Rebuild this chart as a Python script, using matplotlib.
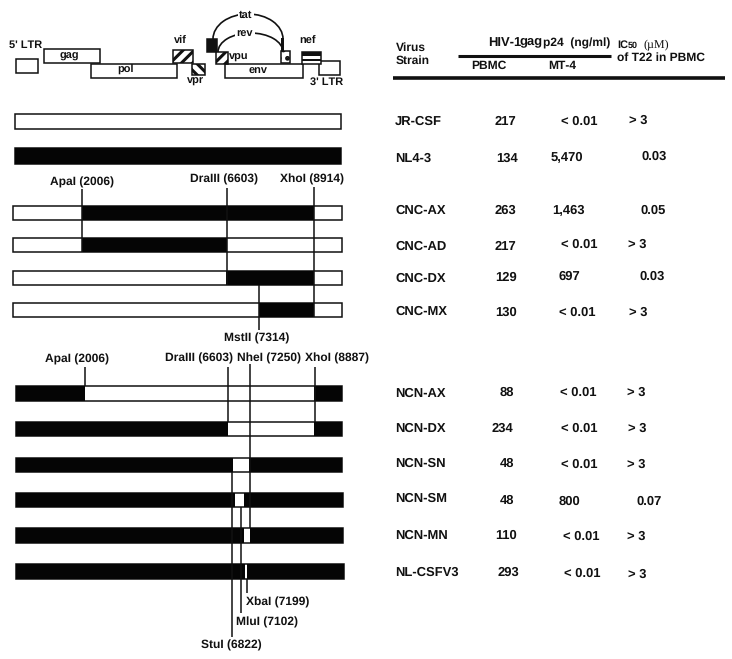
import matplotlib
matplotlib.use("Agg")
import matplotlib.pyplot as plt
from matplotlib.patches import Rectangle, Arc

plt.rcParams['font.family'] = ['Liberation Sans', 'DejaVu Sans']
plt.rcParams['hatch.linewidth'] = 2.2
plt.rcParams['text.hinting'] = 'none'
plt.rcParams['text.hinting_factor'] = 1

# ---- table data
strains = ["JR-CSF", "NL4-3", "CNC-AX", "CNC-AD", "CNC-DX", "CNC-MX",
           "NCN-AX", "NCN-DX", "NCN-SN", "NCN-SM", "NCN-MN", "NL-CSFV3"]
pbmc = ["217", "134", "263", "217", "129", "130", "88", "234", "48", "48", "110", "293"]
mt4 = ["< 0.01", "5,470", "1,463", "< 0.01", "697", "< 0.01",
       "< 0.01", "< 0.01", "< 0.01", "800", "< 0.01", "< 0.01"]
ic50 = ["> 3", "0.03", "0.05", "> 3", "0.03", "> 3", "> 3", "> 3", "> 3", "0.07", "> 3", "> 3"]
strain_y = [122, 158, 211, 247, 279, 312, 394, 429, 464, 499, 536, 573]
pbmc_y = [122, 159, 211, 247, 278, 313, 393, 429, 464, 501, 536, 573]
mt4_y = [122, 158, 211, 245, 277, 313, 393, 429, 465, 502, 537, 574]
ic50_y = [121, 157, 211, 245, 277, 313, 393, 429, 465, 502, 537, 574]
pbmc_x = [495, 496, 495, 495, 495, 495, 500, 492, 500, 500, 495, 498]
mt4_x = [561, 551, 552, 561, 559, 559, 560, 561, 561, 559, 563, 564]
ic50_x = [629, 641, 640, 628, 639, 629, 627, 628, 627, 636, 627, 628]

# ---- construct tracks: (top, bottom, left, right, black segments)
track_top = [114, 148, 206, 238, 271, 303, 386, 422, 458, 493, 528, 564]
track_bot = [129, 164, 220, 252, 285, 317, 401, 436, 472, 507, 543, 579]
track_left = [15, 15, 13, 13, 13, 13, 16, 16, 16, 16, 16, 16]
track_right = [341, 341, 342, 342, 342, 342, 342, 342, 342, 343, 343, 344]
track_black = [[], [(15, 341)], [(82, 314)], [(82, 227)], [(226, 314)], [(259, 314)],
               [(16, 85), (314, 342)], [(16, 228), (314, 342)],
               [(16, 233), (249, 342)], [(16, 235), (243.5, 343)],
               [(16, 243.5), (250, 343)], [(16, 244.5), (247.2, 344)]]

# ---- restriction site lines: x, y0, y1
site_x = [82, 226.5, 314, 259, 85, 228, 250, 314.5, 232, 241, 246.7]
site_y0 = [189, 188, 187, 285, 367, 367, 364, 367, 472, 507, 579]
site_y1 = [252, 285, 317, 330, 386, 422, 528, 422, 637, 613, 593]
site_labels = ["ApaI (2006)", "DraIII (6603)", "XhoI (8914)", "MstII (7314)",
               "ApaI (2006)", "DraIII (6603)", "NheI (7250)", "XhoI (8887)",
               "StuI (6822)", "MluI (7102)", "XbaI (7199)"]
label_x = [50, 190, 280, 224, 45, 165, 237, 305, 201, 236, 246]
label_y = [182, 179, 179, 338, 359, 358, 358, 358, 645, 622, 602]

# ---- genome map
gene_names = ["", "gag", "pol", "env", ""]
gene_box = [(16, 59, 38, 73), (44, 49, 100, 63), (91, 64, 177, 78), (225, 64, 303, 78), (319, 61, 340, 75)]
gene_label_x = [0, 69, 126, 258, 0]
gene_label_y = [0, 56, 70, 71, 0]

fig = plt.figure(figsize=(7.32, 6.59), dpi=100)
ax = fig.add_axes([0, 0, 1, 1])
ax.set_xlim(0, 732)
ax.set_ylim(659, 0)
ax.axis("off")

BOLD = dict(fontweight="bold", color="#111111", va="center")


def box(x0, y0, x1, y1, fc="white", hatch=None, lw=1.1, z=2):
    ax.add_patch(Rectangle((x0, y0), x1 - x0, y1 - y0, fc=fc, ec="#111111", lw=lw, hatch=hatch, zorder=z))


# genome map boxes
for name, b, lx, ly in zip(gene_names, gene_box, gene_label_x, gene_label_y):
    box(*b)
    if name:
        ax.text(lx, ly, name, ha="center", fontsize=8, **BOLD)
box(173, 50, 193, 63, hatch="///")
box(192, 64, 205, 75, hatch="\\\\\\")
box(207, 39, 217, 52, fc="#111111")
box(216, 52, 228, 64, hatch="///")
box(281, 51, 290, 63, hatch="..")
box(302, 52, 321, 64)
ax.add_patch(Rectangle((302, 52), 19, 4, fc="#111111", ec="none", zorder=3))
ax.add_patch(Rectangle((302, 59), 19, 2, fc="#111111", ec="none", zorder=3))
ax.add_patch(Arc((248, 39), 70, 50, theta1=180, theta2=360, lw=1.2, color="#111111", zorder=1))
ax.add_patch(Arc((250.5, 52), 65, 38, theta1=180, theta2=360, lw=1.2, color="#111111", zorder=1))
ax.add_patch(Rectangle((281, 38), 3, 13, fc="#111111", ec="none", zorder=3))
for t, x, y in [("tat", 246, 15), ("rev", 245, 34)]:
    ax.text(x, y, t, ha="center", fontsize=8, bbox=dict(fc="white", ec="none", pad=1), zorder=4, **BOLD)
for t, x, y in [("5' LTR", 26, 45), ("vif", 180, 40), ("vpr", 196, 81), ("vpu", 239, 57),
                ("nef", 308, 41), ("3' LTR", 327, 82)]:
    ax.text(x, y, t, ha="center", fontsize=8, **BOLD)

# construct tracks
for top, bot, l, r, blacks in zip(track_top, track_bot, track_left, track_right, track_black):
    box(l, top, r, bot, z=2)
    for a, b in blacks:
        ax.add_patch(Rectangle((a, top), b - a, bot - top, fc="#050505", ec="none", zorder=3))

# restriction sites
for x, y0, y1 in zip(site_x, site_y0, site_y1):
    ax.plot([x, x], [y0, y1], color="#111111", lw=1.1, zorder=4, solid_capstyle="butt")
for t, x, y in zip(site_labels, label_x, label_y):
    ax.text(x, y, t, ha="left", fontsize=8.6, **BOLD)

# table header
ax.text(396, 48, "Virus", ha="left", fontsize=8.7, **BOLD)
ax.text(396, 61, "Strain", ha="left", fontsize=8.7, **BOLD)
ax.text(488, 43, "HIV-1", ha="left", fontsize=9, **BOLD)
ax.text(519, 41, "gag", ha="left", fontsize=9, **BOLD)
ax.text(543, 43, "p24  (ng/ml)", ha="left", fontsize=8.8, **BOLD)
ax.text(617, 45, "IC", ha="left", fontsize=8, **BOLD)
ax.text(628, 46, "50", ha="left", fontsize=6.5, **BOLD)
ax.text(643, 45, "(µM)", ha="left", fontsize=8.5, color="#111111", va="center", family=["Liberation Serif"])
ax.text(617, 58, "of T22 in PBMC", ha="left", fontsize=8.5, **BOLD)
ax.text(471, 66, "PBMC", ha="left", fontsize=8.8, **BOLD)
ax.text(548, 66, "MT-4", ha="left", fontsize=8.8, **BOLD)
ax.plot([458, 611], [56, 56], color="#111111", lw=2.2, solid_capstyle="butt")
ax.plot([393, 725], [77.5, 77.5], color="#111111", lw=2.6, solid_capstyle="butt")

# table rows
for s, sy in zip(strains, strain_y):
    ax.text(395, sy, s, ha="left", fontsize=9.6, **BOLD)
for vals, xs, ys in [(pbmc, pbmc_x, pbmc_y), (mt4, mt4_x, mt4_y), (ic50, ic50_x, ic50_y)]:
    for v, x, y in zip(vals, xs, ys):
        ax.text(x, y, v, ha="left", fontsize=9.5, **BOLD)

fig.savefig("out.png", dpi=100)
